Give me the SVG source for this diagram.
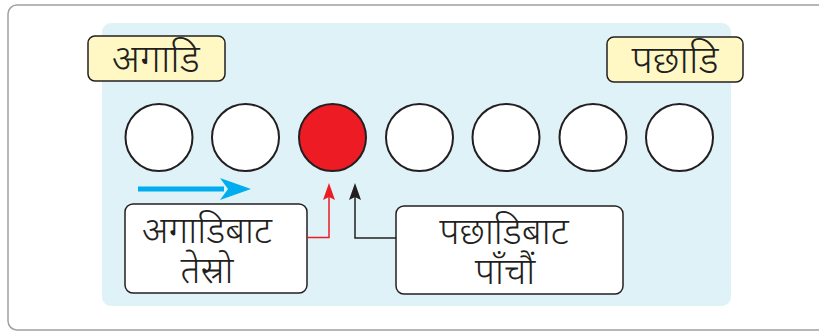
<svg xmlns="http://www.w3.org/2000/svg" width="819" height="333" viewBox="0 0 819 333">
<style>
.t{font-family:"Noto Sans","Noto Sans Devanagari",sans-serif;fill:#231f20;text-anchor:middle;font-weight:300;font-size:37px}
.lbl{fill:#fff8c4;stroke:#231f20;stroke-width:1.5}
.box{fill:#ffffff;stroke:#231f20;stroke-width:1.5}
.c{fill:#ffffff;stroke:#231f20;stroke-width:2}
</style>
<rect x="8" y="5" width="830" height="325" rx="9" fill="#ffffff" stroke="#a0a0a0" stroke-width="1.5"/>
<rect x="102" y="23" width="629" height="283" rx="9" fill="#dff2f7"/>
<g id="front">
<rect class="lbl" x="88" y="36" width="137" height="45" rx="7"/>
<text class="t" x="156" y="72" style="font-size:39px">अगाडि</text>
</g>
<g id="back">
<rect class="lbl" x="607" y="37" width="136" height="45" rx="7"/>
<text class="t" x="675" y="73" style="font-size:39px">पछाडि</text>
</g>
<g id="c1"><circle class="c" cx="159" cy="137.5" r="33.5"/></g>
<g id="c2"><circle class="c" cx="245.5" cy="137.5" r="33.5"/></g>
<g id="c3"><circle class="c" cx="332.5" cy="137.5" r="33.5" style="fill:#ed1c24"/></g>
<g id="c4"><circle class="c" cx="419.5" cy="137.5" r="33.5"/></g>
<g id="c5"><circle class="c" cx="506" cy="137.5" r="33.5"/></g>
<g id="c6"><circle class="c" cx="593" cy="137.5" r="33.5"/></g>
<g id="c7"><circle class="c" cx="679.5" cy="137.5" r="33.5"/></g>
<g id="box1">
<rect class="box" x="125" y="204" width="182" height="89" rx="8"/>
<text class="t"><tspan x="207" y="243">अगाडिबाट</tspan><tspan x="207" y="283">तेस्रो</tspan></text>
</g>
<g id="box2">
<rect class="box" x="396" y="206" width="227" height="88" rx="8"/>
<text class="t"><tspan x="504" y="244">पछाडिबाट</tspan><tspan x="505" y="284">पाँचौं</tspan></text>
</g>
<g id="connectors">
<line x1="138" y1="189" x2="224" y2="189" stroke="#00aeef" stroke-width="5"/>
<path d="M251 189 L220 178 L228 189 L220 200 Z" fill="#00aeef"/>
<polyline points="307,237.5 329,237.5 329,196" fill="none" stroke="#ed1c24" stroke-width="1.5"/>
<path d="M329 183 L335 200 L329 197 L323 200 Z" fill="#ed1c24"/>
<polyline points="396,238 355,238 355,196" fill="none" stroke="#231f20" stroke-width="1.5"/>
<path d="M355 183 L361 200 L355 197 L349 200 Z" fill="#231f20"/>
</g>
</svg>
